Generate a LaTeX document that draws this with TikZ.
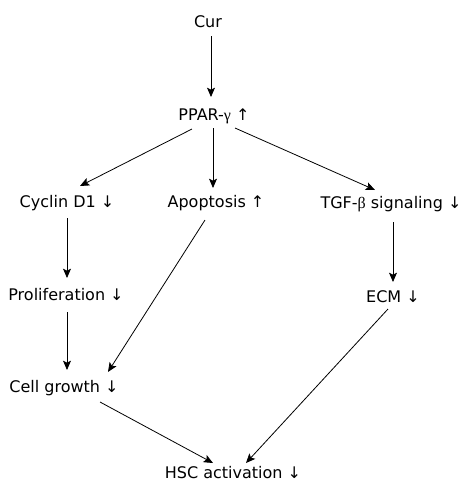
\documentclass[tikz,border=0pt]{standalone}
\usepackage{fontspec}
\setmainfont{DejaVu Sans}
\newfontfamily\grk{Liberation Serif}
\usetikzlibrary{arrows.meta,calc}
\begin{document}
\begin{tikzpicture}[x=0.75pt,y=-0.75pt,
  lbl/.style={inner sep=0pt, text height=8.7pt, text depth=0pt, font=\fontsize{12}{14}\selectfont},
  arr/.style={line width=0.6pt, -{Stealth[length=7pt,width=6pt,inset=1.5pt]}}]
\useasboundingbox (0,0) rectangle (463,483);
\node[lbl] (cur) at (208,22) {Cur};
\node[lbl] (ppar) at (214,115) {PPAR-{\grk γ} ↑};
\node[lbl] (cyclin) at (67,202) {Cyclin D1 ↓};
\node[lbl] (apop) at (216,202) {Apoptosis ↑};
\node[lbl] (tgf) at (391,203) {TGF-{\grk β} signaling ↓};
\node[lbl] (prolif) at (66,295) {Proliferation ↓};
\node[lbl] (ecm) at (393,297) {ECM ↓};
\node[lbl] (cellg) at (64,387) {Cell growth ↓};
\node[lbl] (hsc) at (233,473) {HSC activation ↓};
\draw[arr] ($(cur)+(3,14)$) -- ($(ppar)+(-3,-18)$);
\draw[arr] ($(ppar)+(-22,14)$) -- ($(cyclin)+(13,-16)$);
\draw[arr] ($(ppar)+(-1,13)$) -- ($(apop)+(-3,-14)$);
\draw[arr] ($(ppar)+(21,13)$) -- ($(tgf)+(-16,-13)$);
\draw[arr] ($(cyclin)+(0,16)$) -- ($(prolif)+(1,-17)$);
\draw[arr] ($(tgf)+(2,19)$) -- ($(ecm)+(0,-15)$);
\draw[arr] ($(apop)+(-11,18)$) -- ($(cellg)+(44,-15)$);
\draw[arr] ($(prolif)+(1,17)$) -- ($(cellg)+(3,-17)$);
\draw[arr] ($(cellg)+(36,15)$) -- ($(hsc)+(-20,-10)$);
\draw[arr] ($(ecm)+(-5,12)$) -- ($(hsc)+(13,-10)$);
\end{tikzpicture}
\end{document}
